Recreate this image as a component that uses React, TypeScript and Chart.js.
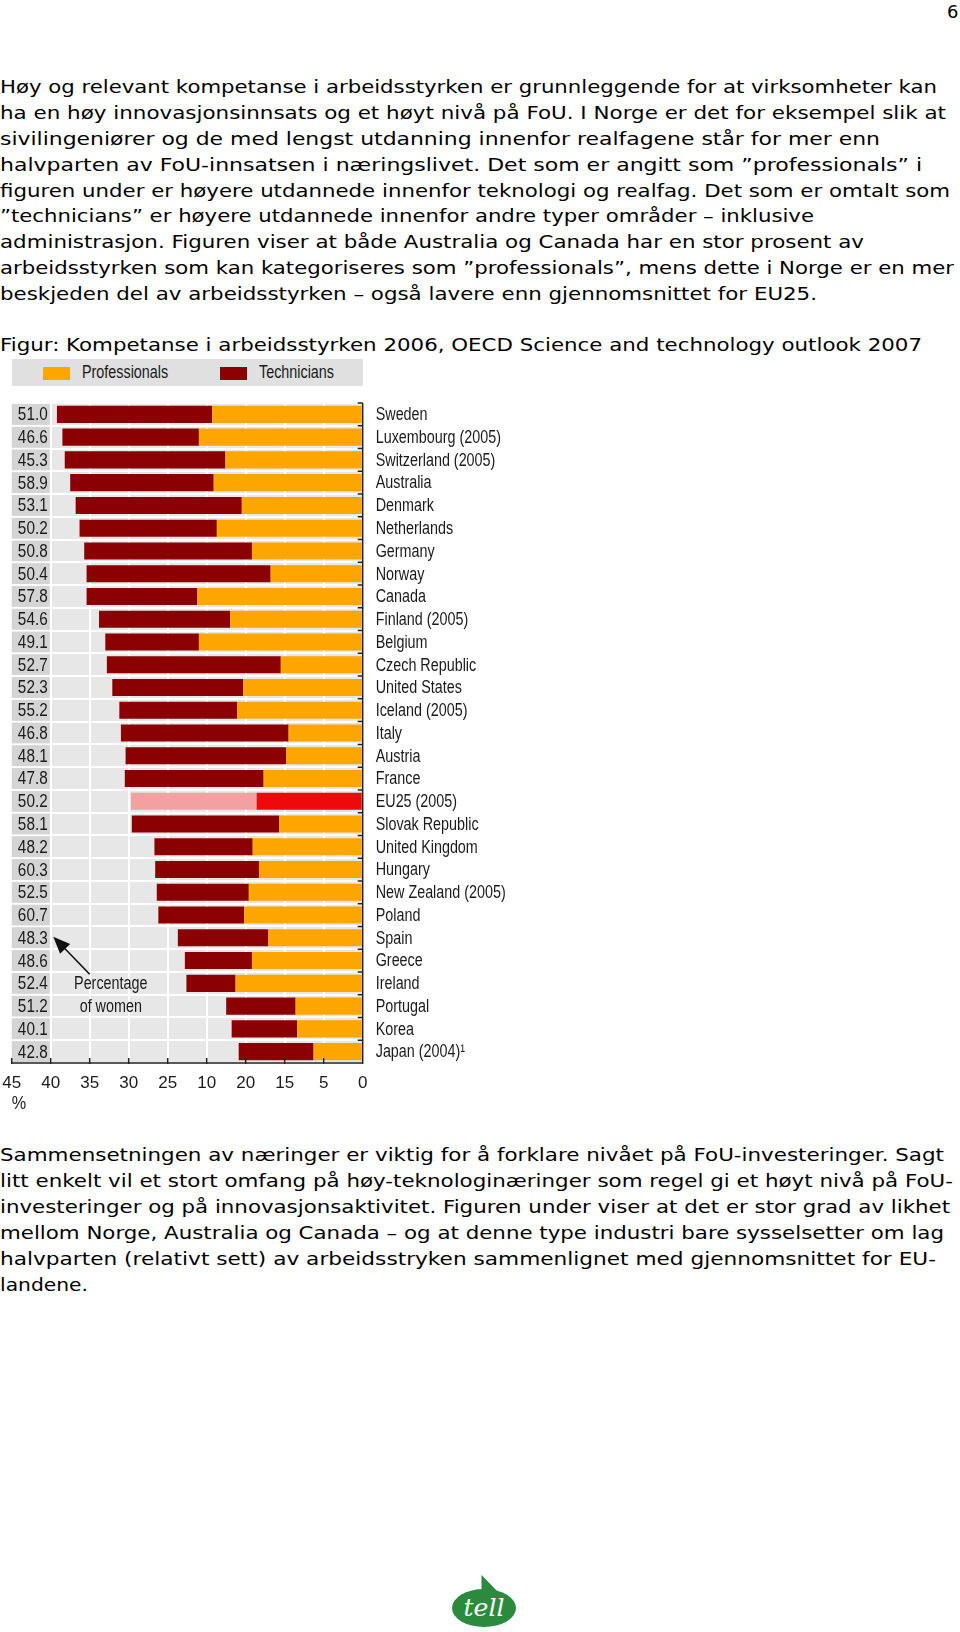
import React, { useEffect, useLayoutEffect, useRef } from "react";
import { Chart, registerables } from "chart.js";

Chart.register(...registerables);

// ---------- chart data ----------
const countries = [
  "Sweden", "Luxembourg (2005)", "Switzerland (2005)", "Australia", "Denmark", "Netherlands",
  "Germany", "Norway", "Canada", "Finland (2005)", "Belgium", "Czech Republic", "United States",
  "Iceland (2005)", "Italy", "Austria", "France", "EU25 (2005)", "Slovak Republic", "United Kingdom",
  "Hungary", "New Zealand (2005)", "Poland", "Spain", "Greece", "Ireland", "Portugal", "Korea",
  "Japan (2004)\u00B9",
];
const professionals = [
  19.3, 21.0, 17.6, 19.1, 15.5, 18.7, 14.2, 11.8, 21.2, 17.0, 21.0, 10.5, 15.3, 16.1, 9.5,
  9.8, 12.7, 13.6, 10.7, 14.1, 13.3, 14.6, 15.2, 12.1, 14.2, 16.3, 8.6, 8.4, 6.3,
];
const technicians = [
  19.9, 17.5, 20.6, 18.4, 21.3, 17.6, 21.5, 23.6, 14.2, 16.8, 12.0, 22.3, 16.8, 15.1, 21.5,
  20.6, 17.8, 16.1, 18.9, 12.6, 13.3, 11.8, 11.0, 11.6, 8.6, 6.3, 8.9, 8.4, 9.6,
];
const womenShare = [
  "51.0", "46.6", "45.3", "58.9", "53.1", "50.2", "50.8", "50.4", "57.8", "54.6", "49.1", "52.7",
  "52.3", "55.2", "46.8", "48.1", "47.8", "50.2", "58.1", "48.2", "60.3", "52.5", "60.7", "48.3",
  "48.6", "52.4", "51.2", "40.1", "42.8",
];
// tick labels exactly as printed in the source (value/5 -> label)
const xTickLabels = ["0", "5", "15", "20", "10", "25", "30", "35", "40", "45"];
const highlightCountry = "EU25 (2005)";
const seriesNames = ["Professionals", "Technicians"];
const annotationLines = ["Percentage", "of women"];

// ---------- styling ----------
const ORANGE = "#FFA500";
const DARK_RED = "#8B0000";
const EU_PROF = "#EE0A0A";
const EU_TECH = "#F2A0A0";
const SANS = '"Liberation Sans", Arial, sans-serif';
const BODY = '"DejaVu Sans", Verdana, sans-serif';
const NARROW_X = 0.82;

const CANVAS_W = 560;
const CANVAS_H = 730;
const CANVAS_TOP = 395;
const AREA_LEFT = 11.7;
const AREA_RIGHT = 362.7;
const AREA_TOP_PAD = 8;
const AREA_H = 660;

const topLines = [
  "Høy og relevant kompetanse i arbeidsstyrken er grunnleggende for at virksomheter kan",
  "ha en høy innovasjonsinnsats og et høyt nivå på FoU. I Norge er det for eksempel slik at",
  "sivilingeniører og de med lengst utdanning innenfor realfagene står for mer enn",
  "halvparten av FoU-innsatsen i næringslivet. Det som er angitt som \u201Dprofessionals\u201D i",
  "figuren under er høyere utdannede innenfor teknologi og realfag. Det som er omtalt som",
  "\u201Dtechnicians\u201D er høyere utdannede innenfor andre typer områder \u2013 inklusive",
  "administrasjon. Figuren viser at både Australia og Canada har en stor prosent av",
  "arbeidsstyrken som kan kategoriseres som \u201Dprofessionals\u201D, mens dette i Norge er en mer",
  "beskjeden del av arbeidsstyrken \u2013 også lavere enn gjennomsnittet for EU25.",
];
const topWidths = [937, 946, 880, 922, 950, 814, 864, 954, 817];
const caption = "Figur: Kompetanse i arbeidsstyrken 2006, OECD Science and technology outlook 2007";
const bottomLines = [
  "Sammensetningen av næringer er viktig for å forklare nivået på FoU-investeringer. Sagt",
  "litt enkelt vil et stort omfang på høy-teknologinæringer som regel gi et høyt nivå på FoU-",
  "investeringer og på innovasjonsaktivitet. Figuren under viser at det er stor grad av likhet",
  "mellom Norge, Australia og Canada \u2013 og at denne type industri bare sysselsetter om lag",
  "halvparten (relativt sett) av arbeidsstryken sammenlignet med gjennomsnittet for EU-",
  "landene.",
];
const bottomWidths = [944, 953, 950, 944, 936, 88];
const BODY_SIZE = 18;

function FitLine(props: { text: string; left: number; cy: number; width: number; size: number }) {
  const ref = useRef<HTMLDivElement>(null);
  const lh = Math.round(props.size * 1.3);
  useLayoutEffect(() => {
    const el = ref.current;
    if (!el) return;
    el.style.transform = "none";
    const w = el.getBoundingClientRect().width;
    if (w > 0) el.style.transform = `scaleX(${props.width / w})`;
  }, [props.text, props.width]);
  return (
    <div
      ref={ref}
      style={{
        position: "absolute",
        left: props.left,
        top: props.cy - lh / 2,
        whiteSpace: "pre",
        fontFamily: BODY,
        fontSize: props.size,
        lineHeight: lh + "px",
        color: "#000",
        transformOrigin: "0 50%",
      }}
    >
      {props.text}
    </div>
  );
}

function narrowText(ctx: any, text: string, x: number, y: number, align: string, size: number, sx = NARROW_X) {
  ctx.save();
  ctx.font = `${size}px ${SANS}`;
  ctx.textBaseline = "middle";
  ctx.textAlign = align;
  ctx.fillStyle = "#1a1a1a";
  ctx.translate(x, y);
  ctx.scale(sx, 1);
  ctx.fillText(text, 0, 0);
  ctx.restore();
}

const decorPlugin = {
  id: "decor",
  beforeDraw(chart: any) {
    const { ctx, chartArea: a } = chart;
    ctx.save();
    ctx.fillStyle = "#e7e7e7";
    ctx.fillRect(a.left, a.top, a.right - a.left, a.bottom - a.top);
    ctx.restore();
  },
  beforeDatasetsDraw(chart: any) {
    const { ctx } = chart;
    const xs = chart.scales.x;
    const ys = chart.scales.y;
    const x0 = xs.getPixelForValue(45);
    const x1 = xs.getPixelForValue(40);
    const h = (ys.bottom - ys.top) / countries.length;
    ctx.save();
    ctx.fillStyle = "#d4d4d4";
    countries.forEach((_, i) => {
      const cy = ys.getPixelForValue(i);
      ctx.fillRect(x0, cy - h / 2 + 1, x1 - x0 - 1, h - 2);
    });
    ctx.restore();
  },
  afterDatasetsDraw(chart: any) {
    const { ctx, chartArea: a } = chart;
    const xs = chart.scales.x;
    const ys = chart.scales.y;
    // share of women column
    const lx = xs.getPixelForValue(42.3);
    womenShare.forEach((v, i) => narrowText(ctx, v, lx, ys.getPixelForValue(i) + 1, "center", 18, 0.85));
    // country names next to the right-hand axis
    countries.forEach((c, i) => narrowText(ctx, c, a.right + 13, ys.getPixelForValue(i) + 1, "left", 17.5));
    // annotation
    const ax = xs.getPixelForValue(32.3);
    narrowText(ctx, annotationLines[0], ax, ys.getPixelForValue(25) + 1, "center", 17.5);
    narrowText(ctx, annotationLines[1], ax, ys.getPixelForValue(26) + 1, "center", 17.5);
    ctx.save();
    const tx = xs.getPixelForValue(35), ty = ys.getPixelForValue(24.6);
    const hx = xs.getPixelForValue(39.67), hy = ys.getPixelForValue(22.95);
    const ang = Math.atan2(hy - ty, hx - tx);
    ctx.strokeStyle = "#111";
    ctx.lineWidth = 1.6;
    ctx.beginPath();
    ctx.moveTo(tx, ty);
    ctx.lineTo(hx - 12 * Math.cos(ang), hy - 12 * Math.sin(ang));
    ctx.stroke();
    ctx.beginPath();
    ctx.moveTo(hx, hy);
    ctx.lineTo(hx - 17 * Math.cos(ang) + 7 * Math.sin(ang), hy - 17 * Math.sin(ang) - 7 * Math.cos(ang));
    ctx.lineTo(hx - 17 * Math.cos(ang) - 7 * Math.sin(ang), hy - 17 * Math.sin(ang) + 7 * Math.cos(ang));
    ctx.closePath();
    ctx.fillStyle = "#111";
    ctx.fill();
    // axis lines + inner ticks
    ctx.strokeStyle = "#222";
    ctx.lineWidth = 1.5;
    ctx.beginPath();
    ctx.moveTo(a.right, a.top);
    ctx.lineTo(a.right, a.bottom);
    ctx.moveTo(a.left, a.bottom);
    ctx.lineTo(a.right, a.bottom);
    const h = (ys.bottom - ys.top) / countries.length;
    for (let i = 0; i <= countries.length; i++) {
      const yy = ys.top + i * h;
      ctx.moveTo(a.right - 5, yy);
      ctx.lineTo(a.right, yy);
    }
    for (let v = 0; v <= 45; v += 5) {
      const xx = xs.getPixelForValue(v);
      ctx.moveTo(xx, a.bottom - 5);
      ctx.lineTo(xx, a.bottom + 1);
    }
    ctx.stroke();
    ctx.restore();
    // unit
    narrowText(ctx, "%", a.left, a.bottom + 41, "left", 18, 0.9);
  },
};

function OecdChart() {
  const ref = useRef<HTMLCanvasElement>(null);
  useEffect(() => {
    if (!ref.current) return;
    const chart = new Chart(ref.current, {
      type: "bar",
      data: {
        labels: countries,
        datasets: [
          {
            label: seriesNames[0],
            data: professionals,
            backgroundColor: countries.map((c) => (c === highlightCountry ? EU_PROF : ORANGE)),
            barPercentage: 0.75,
            categoryPercentage: 1,
          },
          {
            label: seriesNames[1],
            data: technicians,
            backgroundColor: countries.map((c) => (c === highlightCountry ? EU_TECH : DARK_RED)),
            barPercentage: 0.75,
            categoryPercentage: 1,
          },
        ],
      },
      options: {
        indexAxis: "y",
        animation: false,
        responsive: false,
        devicePixelRatio: 1,
        layout: { padding: { left: AREA_LEFT, top: AREA_TOP_PAD, right: 0, bottom: 0 } },
        plugins: { legend: { display: false }, tooltip: { enabled: false } },
        scales: {
          x: {
            stacked: true,
            reverse: true,
            min: 0,
            max: 45,
            grid: { color: "#ffffff", lineWidth: 2, drawTicks: false },
            border: { display: false },
            ticks: {
              stepSize: 5,
              autoSkip: false,
              maxRotation: 0,
              padding: 10,
              color: "#1a1a1a",
              font: { family: SANS, size: 17 },
              callback: (v: any) => xTickLabels[Math.round(Number(v) / 5)],
            },
            afterFit: (s: any) => {
              s.height = CANVAS_H - AREA_TOP_PAD - AREA_H;
              s.paddingLeft = 0;
              s.paddingRight = 0;
            },
          },
          y: {
            stacked: true,
            position: "right",
            grid: { color: "#ffffff", lineWidth: 2, offset: true, drawTicks: false },
            border: { display: false },
            ticks: { display: false, autoSkip: false },
            afterFit: (s: any) => {
              s.width = CANVAS_W - AREA_RIGHT;
              s.paddingTop = 0;
              s.paddingBottom = 0;
            },
          },
        },
      },
      plugins: [decorPlugin],
    } as any);
    return () => chart.destroy();
  }, []);
  return (
    <canvas
      ref={ref}
      width={CANVAS_W}
      height={CANVAS_H}
      style={{ position: "absolute", left: 0, top: CANVAS_TOP, width: CANVAS_W, height: CANVAS_H }}
    />
  );
}

function Legend() {
  const txt: React.CSSProperties = {
    position: "absolute",
    top: 0,
    lineHeight: "27px",
    fontFamily: SANS,
    fontSize: 17.5,
    color: "#1a1a1a",
    whiteSpace: "pre",
    transform: `scaleX(${NARROW_X})`,
    transformOrigin: "0 50%",
  };
  return (
    <div style={{ position: "absolute", left: 12, top: 359, width: 351, height: 27, background: "#e0e0e0" }}>
      <div style={{ position: "absolute", left: 31, top: 8, width: 27, height: 13, background: ORANGE }} />
      <div style={{ ...txt, left: 70 }}>{seriesNames[0]}</div>
      <div style={{ position: "absolute", left: 208, top: 8, width: 27, height: 13, background: DARK_RED }} />
      <div style={{ ...txt, left: 247 }}>{seriesNames[1]}</div>
    </div>
  );
}

function Logo() {
  return (
    <svg style={{ position: "absolute", left: 440, top: 1570 }} width={92} height={62}>
      <path d="M41.5 5 L41.5 24 L60 24 Z" fill="#2b8a3e" />
      <ellipse cx={44} cy={38} rx={32} ry={19} fill="#2b8a3e" />
      <text
        x={44}
        y={46}
        textAnchor="middle"
        fill="#ffffff"
        fontFamily='"DejaVu Serif", serif'
        fontStyle="italic"
        fontSize={25}
      >
        tell
      </text>
    </svg>
  );
}

export default function App() {
  return (
    <div style={{ position: "absolute", left: 0, top: 0, width: 960, height: 1632, background: "#fff" }}>
      <div
        style={{
          position: "absolute",
          left: 947,
          top: 0,
          lineHeight: "24px",
          fontFamily: BODY,
          fontSize: BODY_SIZE,
          color: "#000",
        }}
      >
        6
      </div>
      {topLines.map((t, i) => (
        <FitLine key={"t" + i} text={t} left={0} cy={86.4 + 25.9 * i} width={topWidths[i]} size={BODY_SIZE} />
      ))}
      <FitLine text={caption} left={0} cy={344.4} width={922} size={BODY_SIZE} />
      <Legend />
      <OecdChart />
      {bottomLines.map((t, i) => (
        <FitLine key={"b" + i} text={t} left={0} cy={1154.7 + 26 * i} width={bottomWidths[i]} size={BODY_SIZE} />
      ))}
      <Logo />
    </div>
  );
}
